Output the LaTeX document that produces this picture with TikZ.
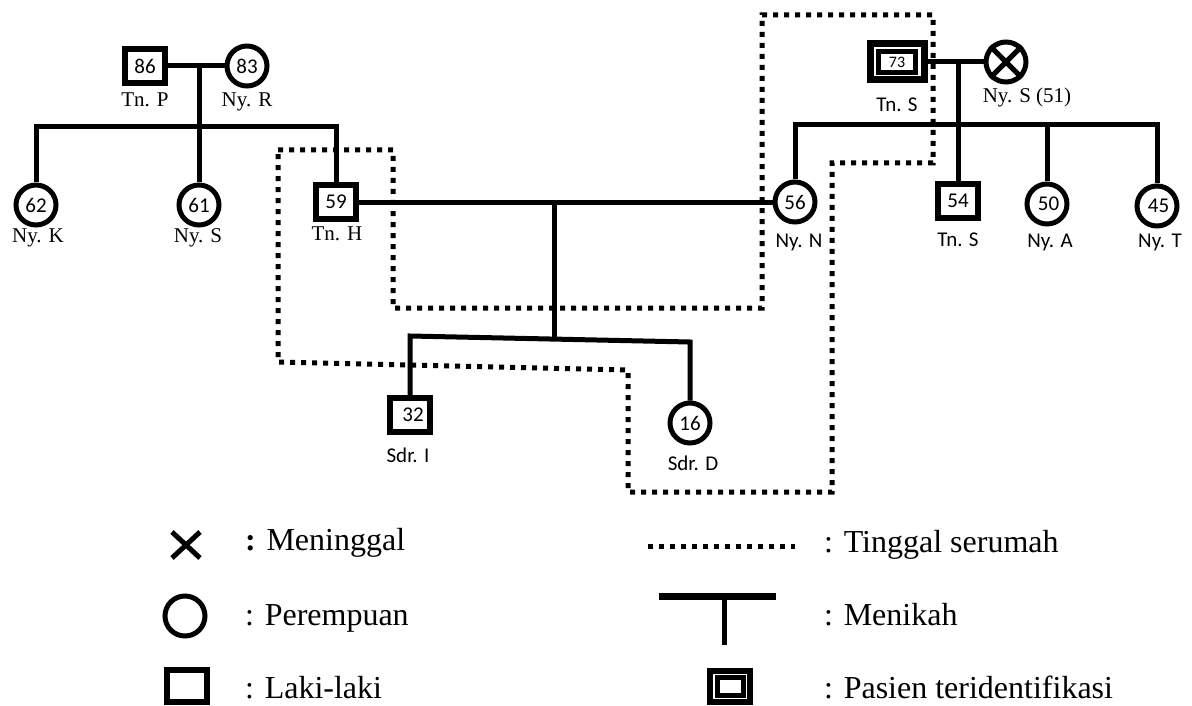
\documentclass[tikz,border=0pt]{standalone}
\usepackage{fontspec}
\setmainfont{Liberation Serif}
\setsansfont{Carlito}

\tikzset{
  female/.style={draw, circle, line width=5pt, minimum size=40pt, inner sep=0pt,
    font=\sffamily\fontsize{21}{21}\selectfont},
  male/.style={draw, rectangle, line width=6pt, minimum width=40pt, minimum height=34pt,
    inner sep=0pt, font=\sffamily\fontsize{21}{21}\selectfont},
  patient/.style={draw, rectangle, line width=7pt, minimum width=54pt, minimum height=36pt,
    inner sep=0pt},
  patientin/.style={draw, rectangle, line width=5pt, minimum width=37pt, minimum height=21pt,
    inner sep=0pt, font=\sffamily\fontsize{16}{16}\selectfont},
  rel/.style={line width=5pt},
  house/.style={line width=5pt, dash pattern=on 5pt off 6pt},
  lbl/.style={inner sep=0pt, font=\fontsize{21}{21}\selectfont},
  lblsf/.style={inner sep=0pt, font=\sffamily\fontsize{21}{21}\selectfont},
  key/.style={inner sep=0pt, anchor=base west, font=\fontsize{32}{32}\selectfont}
}

\begin{document}
\begin{tikzpicture}[x=1pt, y=-1pt]
    \useasboundingbox (0,0) rectangle (1192,706);
    % grandparents, father's side
    \node[male] (P) at (145,66) {86};
    \node[female] (R) at (247,66) {83};
    \node[lbl] (Pl) at (145,100) {Tn. P};
    \node[lbl] (Rl) at (247,102) {Ny. R};
    \node[female] (K) at (36,205) {62};
    \node[female] (S1) at (199,205) {61};
    \node[male] (H) at (336,202) {59};
    \node[lbl] (Kl) at (38,238) {Ny. K};
    \node[lbl] (S1l) at (198,238) {Ny. S};
    \node[lbl] (Hl) at (337,234) {Tn. H};
    \coordinate (PR) at (199,66);
    \coordinate (PRs) at (199,127);
      \draw[rel] (P) -- (R);
      \draw[rel] (PR) -- (S1);
      \draw[rel] (K) |- (PRs) -| (H);
    % grandparents, mother's side
    \node[patient] (S73) at (897,62) {};
    \node[patientin] (S73in) at (S73) {73};
    \node[female] (SW) at (1006,62) {};
    \node[lblsf] (S73l) at (897,105) {Tn. S};
    \node[lbl] (SWl) at (1027,97) {Ny. S (51)};
      \draw[line width=5pt] (SW.north east) -- (SW.south west);
      \draw[line width=5pt] (SW.north west) -- (SW.south east);
    \node[female] (N) at (795,202) {56};
    \node[male] (S54) at (958,201) {54};
    \node[female] (A) at (1047,204) {\hspace{3pt}50};
    \node[female] (T) at (1157,206) {\hspace{3pt}45};
    \node[lblsf] (Nl) at (799,242) {Ny. N};
    \node[lblsf] (S54l) at (958,240) {Tn. S};
    \node[lblsf] (Al) at (1050,242) {Ny. A};
    \node[lblsf] (Tl) at (1160,242) {Ny. T};
    \coordinate (SS) at (958,62);
    \coordinate (SSs) at (958,125);
      \draw[rel] (S73) -- (SW);
      \draw[rel] (SS) -- (S54);
      \draw[rel] (N) |- (SSs) -| (T);
      \draw[rel] (A) -- (A |- SSs);
    % children
    \node[male] (I) at (410,415) {\hspace{6pt}32};
    \node[female] (D) at (690,423) {16};
    \node[lblsf] (Il) at (408,455) {Sdr. I};
    \node[lblsf] (Dl) at (693,463) {Sdr. D};
    \coordinate (HN) at (554,202);
    \coordinate (HNs) at (554,339);
    \coordinate (Ic) at (410,336);
    \coordinate (Dc) at (690,342);
      \draw[rel] (H) -- (N);
      \draw[rel] (HN) -- (HNs);
      \draw[rel] (I) -- (Ic) -- (Dc) -- (D);
    % one house
      \draw[house] (278,150) -- (393,150) -- (393,308) -- (762,308) -- (762,15)
        -- (933,15) -- (933,163) -- (832,163) -- (832,492) -- (628,492)
        -- (628,370) -- (278,362) -- cycle;
    % legend
      \draw[line width=5pt] (172,532) -- (200,558);
      \draw[line width=5pt] (200,532) -- (172,558);
    \node[key] (k1) at (245,550) {{\bfseries :} Meninggal};
    \node[female] (kf) at (185,616) {};
    \node[key] (k2) at (245,625) {: Perempuan};
    \node[male, minimum height=32pt] (km) at (187,686) {};
    \node[key] (k3) at (245,698) {: Laki-laki};
      \draw[house] (648,546) -- (795,546);
      \draw[line width=7pt] (659,596) -- (776,596);
      \draw[rel] (724,596) -- (724,645);
    \node[patient, line width=6pt, minimum width=40pt, minimum height=31pt] (kp) at (730,686) {};
    \node[patientin, minimum width=26pt, minimum height=18pt] (kpin) at (kp) {};
    \node[key] (k4) at (824,552) {: Tinggal serumah};
    \node[key] (k5) at (824,625) {: Menikah};
    \node[key] (k6) at (824,698) {: Pasien teridentifikasi};
  \end{tikzpicture}
\end{document}
